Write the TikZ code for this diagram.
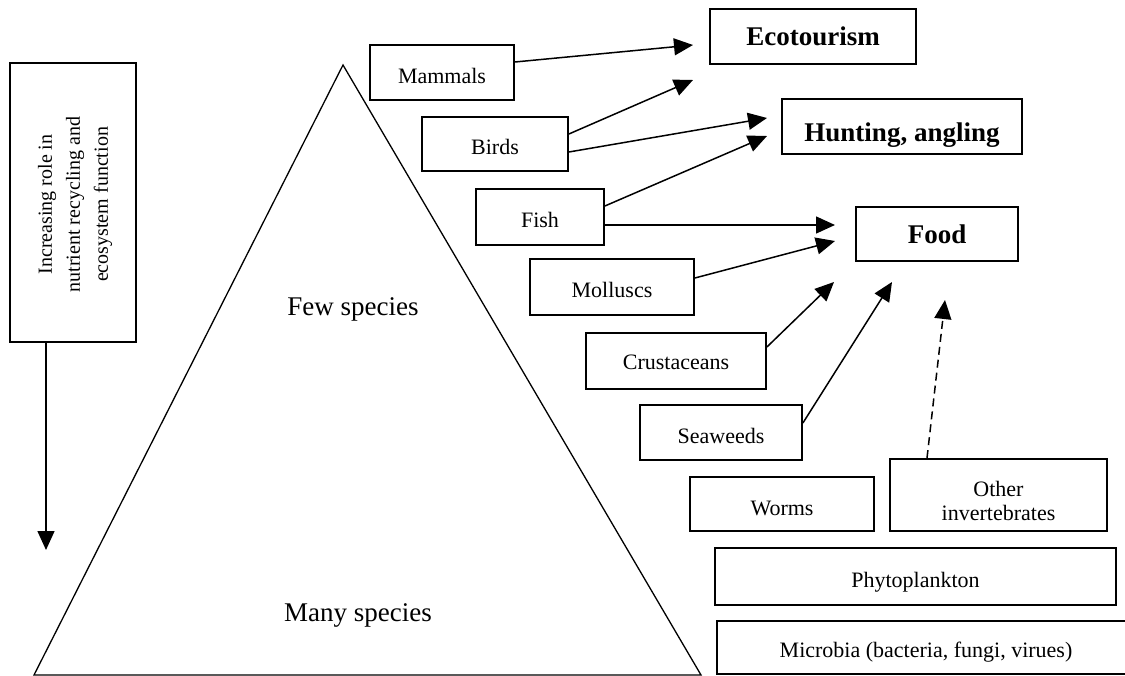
\documentclass[tikz,border=0pt]{standalone}
\usepackage{fontspec}
\setmainfont{Liberation Serif}
\usetikzlibrary{arrows.meta,calc}
\begin{document}
\begin{tikzpicture}[x=1pt,y=-1pt,
  box/.style={draw, line width=1.8pt, inner sep=0pt, text height=22pt, text depth=0pt, font=\fontsize{22}{26}\selectfont},
  bbox/.style={draw, line width=1.8pt, inner sep=0pt, font=\fontsize{27}{30}\selectfont\bfseries},
  conn/.style={line width=1.5pt, -{Triangle[length=19pt,width=17pt]}},
  big/.style={font=\fontsize{27}{30}\selectfont, inner sep=0pt}
]
\useasboundingbox (0,0) rectangle (1125,676);
% pyramid
\coordinate (apex) at (343,65);
\coordinate (bl) at (34,675);
\coordinate (br) at (701,675);
\draw[line width=1.3pt] (apex) -- (bl) -- (br) -- cycle;
\node[big] (few) at (353,309) {Few species};
\node[big] (many) at (358,615) {Many species};
% side box
\node[draw, line width=1.8pt, minimum width=126pt, minimum height=279pt] (side) at (73,202.5) {};
\node[rotate=90, align=center, inner sep=0pt, font=\fontsize{20}{28}\selectfont] (sidetext) at ($(side.center)+(2,2)$) {Increasing role in\\nutrient recycling and\\ecosystem function};
\coordinate (sidetip) at (46,550);
\draw[conn] ($(side.south)+(-27,0)$) -- (sidetip);
% organism boxes
\node[box, minimum width=144pt, minimum height=55pt] (mammals) at (442,72.5) {Mammals};
\node[box, minimum width=146pt, minimum height=54pt] (birds) at (495,144) {Birds};
\node[box, minimum width=128pt, minimum height=56pt] (fish) at (540,217) {Fish};
\node[box, minimum width=164pt, minimum height=56pt] (molluscs) at (612,287) {Molluscs};
\node[box, minimum width=180pt, minimum height=56pt, text height=18pt] (crust) at (676,361) {Crustaceans};
\node[box, minimum width=162pt, minimum height=55pt] (seaweeds) at (721,432.5) {Seaweeds};
\node[box, minimum width=184pt, minimum height=54pt] (worms) at (782,504) {Worms};
\node[draw, line width=1.8pt, minimum width=217pt, minimum height=72pt] (other) at (998.5,495) {};
\node[align=center, inner sep=0pt, font=\fontsize{22}{24}\selectfont] (othertext) at ($(other.center)+(0,6)$) {Other\\invertebrates};
\node[box, minimum width=401pt, minimum height=57pt] (phyto) at (915.5,576.5) {Phytoplankton};
\node[box, minimum width=418pt, minimum height=53pt, text height=20pt] (microbia) at (926,647.5) {Microbia (bacteria, fungi, virues)};
% use boxes
\node[bbox, minimum width=206pt, minimum height=55pt] (eco) at (813,36.5) {Ecotourism};
\node[bbox, minimum width=240pt, minimum height=55pt, text height=30pt, text depth=0pt] (hunt) at (902,126.5) {Hunting, angling};
\node[bbox, minimum width=162pt, minimum height=54pt] (food) at (937,234) {Food};
% arrow tips (free ends)
\coordinate (t1) at (693,45);
\coordinate (t2) at (693,80);
\coordinate (t3) at (767,118);
\coordinate (t4) at (767,136);
\coordinate (t5) at (835,225);
\coordinate (t6) at (835,241);
\coordinate (t7) at (834,282);
\coordinate (t8) at (892,282);
\coordinate (t9) at (945,300);
% connectors
\draw[conn] ($(mammals.east)+(0,-10.5)$) -- (t1);
\draw[conn] ($(birds.east)+(0,-10)$) -- (t2);
\draw[conn] ($(birds.east)+(0,8)$) -- (t3);
\draw[conn] ($(fish.east)+(0,-11)$) -- (t4);
\draw[conn] ($(fish.east)+(0,8)$) -- (t5);
\draw[conn] ($(molluscs.east)+(0,-9)$) -- (t6);
\draw[conn] ($(crust.east)+(0,-14)$) -- (t7);
\draw[conn] ($(seaweeds.east)+(0,-9.5)$) -- (t8);
\draw[conn, dash pattern=on 8pt off 5pt] ($(other.north)+(-71.5,0)$) -- (t9);
\end{tikzpicture}
\end{document}
